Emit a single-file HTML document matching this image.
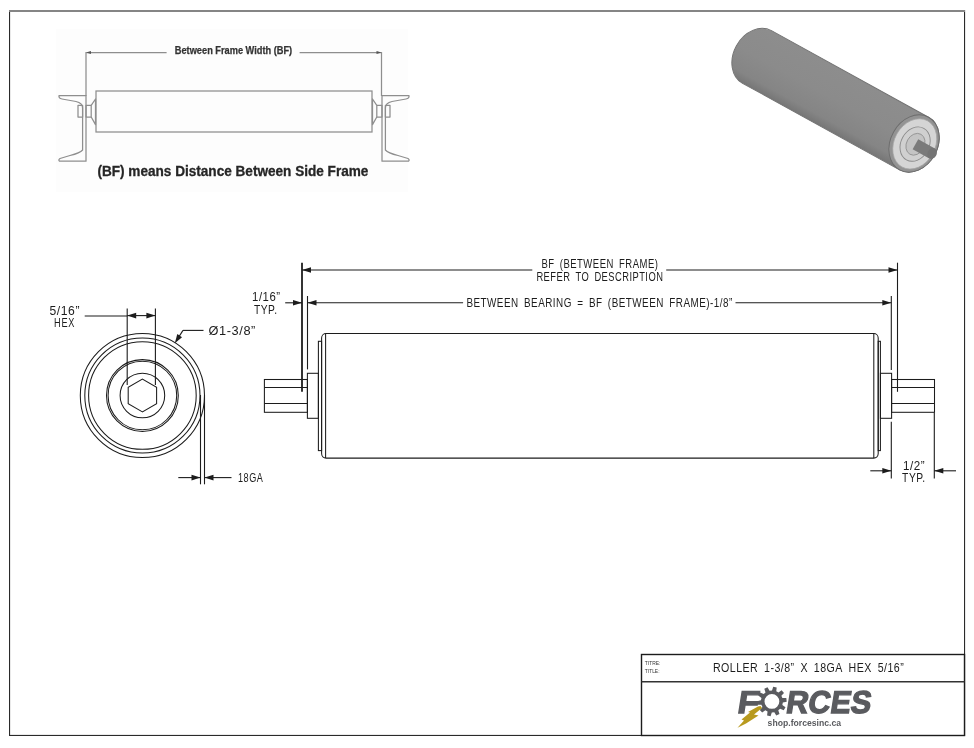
<!DOCTYPE html>
<html><head><meta charset="utf-8"><style>
html,body{margin:0;padding:0;background:#fff;}
body{width:974px;height:748px;overflow:hidden;font-family:"Liberation Sans",sans-serif;}
svg{display:block;will-change:transform;}
</style></head><body>
<svg width="974" height="748" viewBox="0 0 974 748">
<rect x="9" y="10" width="1.1" height="726" fill="#2a2a2a"/>
<rect x="964" y="10" width="1.1" height="726" fill="#2a2a2a"/>
<rect x="9" y="734.9" width="956" height="1.1" fill="#2a2a2a"/>
<rect x="9" y="10" width="956" height="2" fill="#858585"/>
<rect x="56" y="29" width="352" height="163" fill="#fdfdfd"/>
<line x1="86" y1="52.5" x2="166.6" y2="52.5" stroke="#8e8e8e" stroke-width="1.25"/>
<line x1="299.6" y1="52.5" x2="381.5" y2="52.5" stroke="#8e8e8e" stroke-width="1.25"/>
<polygon points="86.00,52.50 91.00,50.90 91.00,54.10" fill="#555"/>
<polygon points="381.50,52.50 376.50,54.10 376.50,50.90" fill="#555"/>
<line x1="86" y1="52" x2="86" y2="96" stroke="#8e8e8e" stroke-width="1.25"/>
<line x1="381.5" y1="52" x2="381.5" y2="96" stroke="#8e8e8e" stroke-width="1.25"/>
<text x="174.8" y="54.2" font-family="Liberation Sans" font-size="10.5" font-weight="bold" fill="#333" textLength="117.4" lengthAdjust="spacingAndGlyphs" stroke="#333" stroke-width="0.25">Between Frame Width (BF)</text>
<rect x="96" y="91" width="276" height="41" fill="none" stroke="#8e8e8e" stroke-width="1.25"/>
<g fill="none" stroke="#8e8e8e" stroke-width="1.25" stroke-linejoin="round"><path d="M59,95.5 L86,95.5 L86,161.2 L59.5,161.2 Q58,160 60,158.5 L70,155.5 Q80,153 82.6,150 L82.6,108 Q82.6,103 76,101.5 L62,99 Q58.5,98.5 59,95.5 Z"/><rect x="78" y="105.3" width="4.6" height="11.7"/><rect x="86" y="105.3" width="5.2" height="11.7"/><path d="M91.2,105.3 L95.5,99 L95.5,124.6 L91.2,117"/></g>
<g transform="translate(468,0) scale(-1,1)"><g fill="none" stroke="#8e8e8e" stroke-width="1.25" stroke-linejoin="round"><path d="M59,95.5 L86,95.5 L86,161.2 L59.5,161.2 Q58,160 60,158.5 L70,155.5 Q80,153 82.6,150 L82.6,108 Q82.6,103 76,101.5 L62,99 Q58.5,98.5 59,95.5 Z"/><rect x="78" y="105.3" width="4.6" height="11.7"/><rect x="86" y="105.3" width="5.2" height="11.7"/><path d="M91.2,105.3 L95.5,99 L95.5,124.6 L91.2,117"/></g></g>
<text x="97.4" y="176.2" font-family="Liberation Sans" font-size="14" font-weight="bold" fill="#262626" textLength="271.0" lengthAdjust="spacingAndGlyphs" stroke="#262626" stroke-width="0.3">(BF) means Distance Between Side Frame</text>
<defs><linearGradient id="cyl" gradientUnits="userSpaceOnUse" x1="0" y1="-30.0" x2="0" y2="30.0"><stop offset="0" stop-color="#8d8d8d"/><stop offset="0.5" stop-color="#8b8b8b"/><stop offset="0.85" stop-color="#858585"/><stop offset="1" stop-color="#767676"/></linearGradient></defs>
<g transform="translate(757,57) rotate(28.85)">
<path d="M0,-30.0 L179.3,-30.0 A23.5,30.0 0 0,1 179.3,30.0 L0,30.0 A23.5,30.0 0 0,1 0,-30.0 Z" fill="url(#cyl)" stroke="#727272" stroke-width="0.9"/>
<ellipse cx="179.3" cy="0" rx="23.5" ry="30.0" fill="#939393" stroke="#6c6c6c" stroke-width="0.9"/>
<ellipse cx="180.1" cy="0" rx="20.5" ry="26.4" fill="#d5d5d5" stroke="#a5a5a5" stroke-width="0.7"/>
<ellipse cx="180.5" cy="0" rx="14.1" ry="18.0" fill="#d0d0d0" stroke="#8a8a8a" stroke-width="0.9"/>
<ellipse cx="180.9" cy="0" rx="8.93" ry="11.4" fill="#c4c4c4" stroke="#8f8f8f" stroke-width="0.8"/>
<rect x="180.9" y="-5.8" width="19" height="11.6" fill="#7a7a7a"/>
<ellipse cx="199.9" cy="0" rx="4.5" ry="5.8" fill="#747474"/>
</g>
<circle cx="142.4" cy="395.5" r="62.1" fill="none" stroke="#1c1c1c" stroke-width="1.05"/>
<circle cx="142.4" cy="395.5" r="57.6" fill="none" stroke="#1c1c1c" stroke-width="1.05"/>
<circle cx="142.4" cy="395.5" r="53.8" fill="none" stroke="#1c1c1c" stroke-width="1.05"/>
<circle cx="142.4" cy="395.5" r="35.9" fill="none" stroke="#1c1c1c" stroke-width="1.05"/>
<circle cx="142.4" cy="395.5" r="34.3" fill="none" stroke="#1c1c1c" stroke-width="1.05"/>
<circle cx="142.4" cy="395.5" r="22.3" fill="none" stroke="#1c1c1c" stroke-width="1.05"/>
<polygon points="142.40,411.90 128.20,403.70 128.20,387.30 142.40,379.10 156.60,387.30 156.60,403.70" fill="none" stroke="#1c1c1c" stroke-width="1.05"/>
<line x1="127.2" y1="308.4" x2="127.2" y2="385" stroke="#1c1c1c" stroke-width="1.1"/>
<line x1="155.4" y1="308.4" x2="155.4" y2="385" stroke="#1c1c1c" stroke-width="1.1"/>
<line x1="84.7" y1="316" x2="127.2" y2="316" stroke="#1c1c1c" stroke-width="1.1"/>
<line x1="127.2" y1="315.6" x2="155.4" y2="315.6" stroke="#1c1c1c" stroke-width="1.1"/>
<polygon points="127.20,315.60 136.20,312.80 136.20,318.40" fill="#1c1c1c"/>
<polygon points="155.40,315.60 146.40,318.40 146.40,312.80" fill="#1c1c1c"/>
<text transform="translate(49.6,314.6) scale(1.011,1)" x="0" y="0" font-family="Liberation Sans" font-size="12" font-weight="normal" fill="#1c1c1c" textLength="29.5" lengthAdjust="spacing" >5/16&#8221;</text>
<text transform="translate(54.0,327) scale(0.768,1)" x="0" y="0" font-family="Liberation Sans" font-size="12" font-weight="normal" fill="#1c1c1c" textLength="26.6" lengthAdjust="spacing" >HEX</text>
<line x1="183" y1="330.4" x2="203.5" y2="330.4" stroke="#1c1c1c" stroke-width="1.1"/>
<line x1="183" y1="330.4" x2="176.5" y2="340.5" stroke="#1c1c1c" stroke-width="1.1"/>
<polygon points="174.80,343.20 177.32,334.12 182.03,337.15" fill="#1c1c1c"/>
<text transform="translate(208.6,334.5) scale(1.067,1)" x="0" y="0" font-family="Liberation Sans" font-size="12" font-weight="normal" fill="#1c1c1c" textLength="43.8" lengthAdjust="spacing" >&#216;1-3/8&#8221;</text>
<line x1="200.5" y1="395" x2="200.5" y2="484.3" stroke="#1c1c1c" stroke-width="1.1"/>
<line x1="204.5" y1="395" x2="204.5" y2="484.3" stroke="#1c1c1c" stroke-width="1.1"/>
<line x1="178.3" y1="477.6" x2="200.5" y2="477.6" stroke="#1c1c1c" stroke-width="1.1"/>
<line x1="204.5" y1="477.6" x2="231.5" y2="477.6" stroke="#1c1c1c" stroke-width="1.1"/>
<polygon points="200.50,477.60 191.50,480.40 191.50,474.80" fill="#1c1c1c"/>
<polygon points="204.50,477.60 213.50,474.80 213.50,480.40" fill="#1c1c1c"/>
<text transform="translate(237.9,481.6) scale(0.757,1)" x="0" y="0" font-family="Liberation Sans" font-size="12" font-weight="normal" fill="#1c1c1c" textLength="33.0" lengthAdjust="spacing" >18GA</text>
<line x1="302" y1="262.7" x2="302" y2="391.8" stroke="#2a2a2a" stroke-width="1.9"/>
<line x1="897.5" y1="262.7" x2="897.5" y2="391.8" stroke="#1c1c1c" stroke-width="1.1"/>
<line x1="302" y1="270" x2="532.3" y2="270" stroke="#1c1c1c" stroke-width="1.1"/>
<line x1="666.2" y1="270" x2="897.5" y2="270" stroke="#1c1c1c" stroke-width="1.1"/>
<polygon points="302.00,270.00 311.00,267.20 311.00,272.80" fill="#1c1c1c"/>
<polygon points="897.50,270.00 888.50,272.80 888.50,267.20" fill="#1c1c1c"/>
<text transform="translate(541.4,268.1) scale(0.793,1)" x="0" y="0" font-family="Liberation Sans" font-size="12" font-weight="normal" fill="#1c1c1c" textLength="147.0" lengthAdjust="spacing" >BF&#8194;(BETWEEN&#8194;FRAME)</text>
<text transform="translate(536.4,280.5) scale(0.779,1)" x="0" y="0" font-family="Liberation Sans" font-size="12" font-weight="normal" fill="#1c1c1c" textLength="162.4" lengthAdjust="spacing" >REFER&#8194;TO&#8194;DESCRIPTION</text>
<line x1="307.5" y1="296" x2="307.5" y2="369.4" stroke="#1c1c1c" stroke-width="1.1"/>
<line x1="891.3" y1="296" x2="891.3" y2="370" stroke="#1c1c1c" stroke-width="1.1"/>
<line x1="307.5" y1="302.8" x2="463.1" y2="302.8" stroke="#1c1c1c" stroke-width="1.1"/>
<line x1="735.5" y1="302.8" x2="891.3" y2="302.8" stroke="#1c1c1c" stroke-width="1.1"/>
<polygon points="307.50,302.80 316.50,300.00 316.50,305.60" fill="#1c1c1c"/>
<polygon points="891.30,302.80 882.30,305.60 882.30,300.00" fill="#1c1c1c"/>
<line x1="285.2" y1="302.8" x2="302" y2="302.8" stroke="#1c1c1c" stroke-width="1.1"/>
<polygon points="302.00,302.80 293.00,305.60 293.00,300.00" fill="#1c1c1c"/>
<text transform="translate(466.4,307.2) scale(0.825,1)" x="0" y="0" font-family="Liberation Sans" font-size="12" font-weight="normal" fill="#1c1c1c" textLength="322.2" lengthAdjust="spacing" >BETWEEN&#8194;BEARING&#8194;=&#8194;BF&#8194;(BETWEEN&#8194;FRAME)-1/8&#8221;</text>
<text transform="translate(252.1,300.9) scale(0.947,1)" x="0" y="0" font-family="Liberation Sans" font-size="12" font-weight="normal" fill="#1c1c1c" textLength="29.5" lengthAdjust="spacing" >1/16&#8221;</text>
<text transform="translate(253.9,313.7) scale(0.856,1)" x="0" y="0" font-family="Liberation Sans" font-size="12" font-weight="normal" fill="#1c1c1c" textLength="27.0" lengthAdjust="spacing" >TYP.</text>
<rect x="321.6" y="333.5" width="556.6" height="124.6" rx="4.5" fill="none" stroke="#1c1c1c" stroke-width="1.05"/>
<line x1="325.6" y1="333.5" x2="325.6" y2="458.1" stroke="#1c1c1c" stroke-width="1.05"/>
<line x1="873.8" y1="333.5" x2="873.8" y2="458.1" stroke="#1c1c1c" stroke-width="1.05"/>
<rect x="318.4" y="341.3" width="3.2" height="109.3" fill="none" stroke="#1c1c1c" stroke-width="1.05"/>
<rect x="878.2" y="341.3" width="2.2" height="109.3" fill="none" stroke="#1c1c1c" stroke-width="1.05"/>
<rect x="307.4" y="373.3" width="11.0" height="45" fill="none" stroke="#1c1c1c" stroke-width="1.05"/>
<rect x="880.4" y="373.3" width="11.2" height="45" fill="none" stroke="#1c1c1c" stroke-width="1.05"/>
<rect x="264.4" y="379.5" width="43.0" height="32.8" fill="none" stroke="#1c1c1c" stroke-width="1.05"/>
<line x1="264.4" y1="387.5" x2="307.4" y2="387.5" stroke="#1c1c1c" stroke-width="1.05"/>
<line x1="264.4" y1="403.5" x2="307.4" y2="403.5" stroke="#1c1c1c" stroke-width="1.05"/>
<rect x="891.6" y="379.5" width="42.9" height="32.8" fill="none" stroke="#1c1c1c" stroke-width="1.05"/>
<line x1="891.6" y1="387.5" x2="934.5" y2="387.5" stroke="#1c1c1c" stroke-width="1.05"/>
<line x1="891.6" y1="403.5" x2="934.5" y2="403.5" stroke="#1c1c1c" stroke-width="1.05"/>
<line x1="891.3" y1="421.7" x2="891.3" y2="478.5" stroke="#1c1c1c" stroke-width="1.1"/>
<line x1="934.3" y1="412.5" x2="934.3" y2="478.5" stroke="#1c1c1c" stroke-width="1.1"/>
<line x1="870.3" y1="470.8" x2="891.3" y2="470.8" stroke="#1c1c1c" stroke-width="1.1"/>
<line x1="934.3" y1="470.8" x2="956" y2="470.8" stroke="#1c1c1c" stroke-width="1.1"/>
<polygon points="891.30,470.80 882.30,473.60 882.30,468.00" fill="#1c1c1c"/>
<polygon points="934.30,470.80 943.30,468.00 943.30,473.60" fill="#1c1c1c"/>
<text transform="translate(902.9,469.8) scale(0.97,1)" x="0" y="0" font-family="Liberation Sans" font-size="12" font-weight="normal" fill="#1c1c1c" textLength="22.3" lengthAdjust="spacing" >1/2&#8221;</text>
<text transform="translate(902.1,481.6) scale(0.856,1)" x="0" y="0" font-family="Liberation Sans" font-size="12" font-weight="normal" fill="#1c1c1c" textLength="27.0" lengthAdjust="spacing" >TYP.</text>
<rect x="641.5" y="654.5" width="323.0" height="81.0" fill="#fff" stroke="#1c1c1c" stroke-width="1.4"/>
<line x1="641.5" y1="681.8" x2="964.5" y2="681.8" stroke="#333" stroke-width="1.6"/>
<text x="644.8" y="664.7" font-family="Liberation Sans" font-size="6" font-weight="normal" fill="#333" textLength="15.6" lengthAdjust="spacingAndGlyphs" >TITRE:</text>
<text x="644.8" y="673.3" font-family="Liberation Sans" font-size="6" font-weight="normal" fill="#333" textLength="14.7" lengthAdjust="spacingAndGlyphs" >TITLE:</text>
<text transform="translate(712.9,672.2) scale(0.887,1)" x="0" y="0" font-family="Liberation Sans" font-size="12" font-weight="normal" fill="#1c1c1c" textLength="215.2" lengthAdjust="spacing" >ROLLER&#8194;1-3/8&#8221;&#8194;X&#8194;18GA&#8194;HEX&#8194;5/16&#8221;</text>
<text transform="translate(736.5,712.8) skewX(-9)" x="0" y="0" font-family="Liberation Sans" font-size="31.5" font-weight="bold" fill="#5a5b5f" stroke="#5a5b5f" stroke-width="1.3" textLength="21" lengthAdjust="spacingAndGlyphs">F</text>
<text transform="translate(785,712.8) skewX(-9)" x="0" y="0" font-family="Liberation Sans" font-size="31.5" font-weight="bold" fill="#5a5b5f" stroke="#5a5b5f" stroke-width="1.3" textLength="85" lengthAdjust="spacingAndGlyphs">RCES</text>
<path d="M772.00,690.40 L773.22,686.66 L776.69,687.40 L776.28,691.31 L778.45,692.56 L781.63,690.25 L784.00,692.88 L781.37,695.81 L782.39,698.10 L786.33,698.10 L786.70,701.63 L782.85,702.45 L782.33,704.90 L785.51,707.21 L783.74,710.28 L780.14,708.68 L778.28,710.36 L779.49,714.10 L776.26,715.54 L774.29,712.14 L771.80,712.40 L770.58,716.14 L767.11,715.40 L767.52,711.49 L765.35,710.24 L762.17,712.55 L759.80,709.92 L762.43,706.99 L761.41,704.70 L757.47,704.70 L757.10,701.17 L760.95,700.35 L761.47,697.90 L758.29,695.59 L760.06,692.52 L763.66,694.12 L765.52,692.44 L764.31,688.70 L767.54,687.26 L769.51,690.66 Z M779.30,701.4 A7.4,7.4 0 1,0 764.50,701.4 A7.4,7.4 0 1,0 779.30,701.4 Z" fill="#5a5b5f" fill-rule="evenodd"/>
<polygon points="760.5,706 762,708 754,714.5 758.5,715.5 746,723.5 737.5,727.8 744,720.5 741.5,719.5 750,712.5 748,712 758,706.5" fill="#b89a1e"/>
<text x="767.6" y="725.9" font-family="Liberation Sans" font-size="9.2" font-weight="bold" fill="#5a5b5f" textLength="73.5" lengthAdjust="spacingAndGlyphs">shop.forcesinc.ca</text>
</svg>
</body></html>
